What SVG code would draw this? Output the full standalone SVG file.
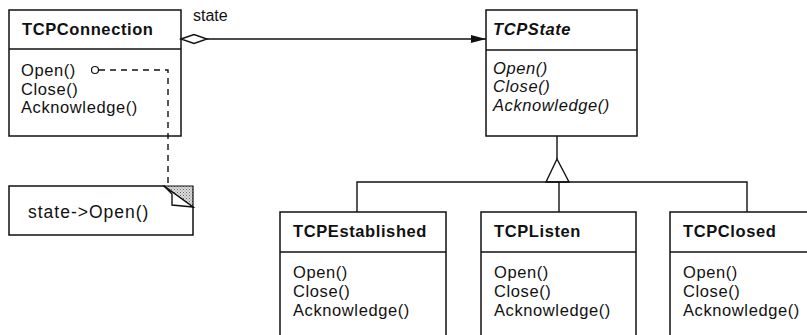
<svg xmlns="http://www.w3.org/2000/svg" width="807" height="335" viewBox="0 0 807 335">
<style>
  .box{fill:#fff;stroke:#111;stroke-width:1.5}
  .ln{fill:none;stroke:#111;stroke-width:1.4}
  .t{font-family:"Liberation Sans",Arial,sans-serif;font-size:16.5px;letter-spacing:0.6px;fill:#111}
  .h{font-family:"Liberation Sans",Arial,sans-serif;font-size:16.5px;letter-spacing:0.6px;font-weight:bold;fill:#111}
  .i{font-style:italic}
  .s{font-family:"Liberation Sans",Arial,sans-serif;font-size:16px;fill:#111}
</style>
<defs>
  <marker id="arr" markerWidth="16" markerHeight="10" refX="15" refY="5" orient="auto" markerUnits="userSpaceOnUse">
    <path d="M0,1 L15,5 L0,9 Z" fill="#111"/>
  </marker>
  <pattern id="dots" width="3" height="3" patternUnits="userSpaceOnUse">
    <rect width="3" height="3" fill="#ddd"/>
    <rect width="1" height="1" fill="#666"/>
    <rect x="1.5" y="1.5" width="1" height="1" fill="#888"/>
  </pattern>
</defs>
<rect width="807" height="335" fill="#fff"/>

<g id="TCPConnection">
  <rect class="box" x="9" y="10" width="172" height="126"/>
  <line class="ln" x1="9" y1="49" x2="181" y2="49"/>
  <text class="h" x="22" y="35">TCPConnection</text>
  <text class="t" x="21" y="76">Open()</text>
  <text class="t" x="21" y="95">Close()</text>
  <text class="t" x="21" y="113">Acknowledge()</text>
</g>

<g id="TCPState">
  <rect class="box" x="486" y="10" width="151" height="126"/>
  <line class="ln" x1="486" y1="50" x2="637" y2="50"/>
  <text class="h i" x="493" y="35">TCPState</text>
  <text class="t i" x="493" y="74">Open()</text>
  <text class="t i" x="493" y="92">Close()</text>
  <text class="t i" x="493" y="111">Acknowledge()</text>
</g>

<g id="note">
  <path class="box" d="M9,186 H164 L193,207 V235 H9 Z"/>
  <polygon points="164,186 193,186 193,207" fill="url(#dots)" stroke="#111" stroke-width="1.2"/>
  <polygon points="164,186 172,194 172,205 193,207" fill="#fff" stroke="#111" stroke-width="1.4"/>
  <text class="t" x="28" y="218" style="font-size:17.5px;letter-spacing:1px">state-&gt;Open()</text>
</g>

<g id="TCPEstablished">
  <rect class="box" x="280" y="212" width="166" height="130"/>
  <line class="ln" x1="280" y1="252" x2="446" y2="252"/>
  <text class="h" x="293" y="237">TCPEstablished</text>
  <text class="t" x="293" y="278">Open()</text>
  <text class="t" x="293" y="297">Close()</text>
  <text class="t" x="293" y="316">Acknowledge()</text>
</g>

<g id="TCPListen">
  <rect class="box" x="481" y="212" width="155" height="130"/>
  <line class="ln" x1="481" y1="252" x2="636" y2="252"/>
  <text class="h" x="494" y="237">TCPListen</text>
  <text class="t" x="494" y="278">Open()</text>
  <text class="t" x="494" y="297">Close()</text>
  <text class="t" x="494" y="316">Acknowledge()</text>
</g>

<g id="TCPClosed">
  <rect class="box" x="670" y="212" width="150" height="130"/>
  <line class="ln" x1="670" y1="252" x2="820" y2="252"/>
  <text class="h" x="683" y="237">TCPClosed</text>
  <text class="t" x="683" y="278">Open()</text>
  <text class="t" x="683" y="297">Close()</text>
  <text class="t" x="683" y="316">Acknowledge()</text>
</g>

<g id="connectors">
  <polygon points="181,39 194,34.5 207,39 194,43.5" fill="#fff" stroke="#111" stroke-width="1.4"/>
  <line class="ln" x1="207" y1="39" x2="486" y2="39" marker-end="url(#arr)"/>
  <text class="s" x="193" y="21">state</text>
  <circle cx="95" cy="70" r="3.5" fill="#fff" stroke="#111" stroke-width="1.2"/>
  <path class="ln" d="M99,70 H168 V186" stroke-dasharray="6,5" stroke-width="1.3"/>
  <line class="ln" x1="557" y1="136" x2="557" y2="159"/>
  <polygon points="557,159 546,182 569,182" fill="#fff" stroke="#111" stroke-width="1.4"/>
  <path class="ln" d="M357,212 V182 H747 V212 M559,182 V212"/>
</g>
</svg>
